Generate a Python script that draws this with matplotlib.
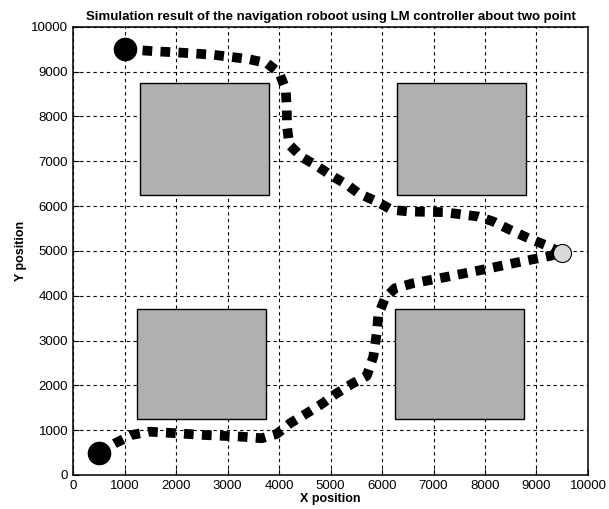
import matplotlib.pyplot as plt
from matplotlib.patches import Rectangle

# obstacles: (x0, y0, width, height)
obstacles = [
    (1300, 6250, 2500, 2500),
    (6300, 6250, 2500, 2500),
    (1250, 1250, 2500, 2450),
    (6250, 1250, 2500, 2450),
]

# path 1: start top-left -> goal
path1_x = [1000, 1625, 2039, 2718, 3398, 3761, 4006, 4130, 4150, 4155, 4200, 4441,
           4732, 5023, 5326, 5534, 5897, 6188, 6544, 7190, 7870, 8161, 8485, 8841, 9165, 9500]
path1_y = [9500, 9449, 9426, 9375, 9279, 9190, 8967, 8594, 8170, 7775, 7366, 7092,
           6897, 6674, 6473, 6288, 6100, 5915, 5877, 5864, 5766, 5654, 5469, 5283, 5134, 4950]

# path 2: start bottom-left -> goal
path2_x = [500, 816, 1140, 1482, 1819, 2530, 3276, 3664, 3955, 4214, 4538, 4829, 5120,
           5412, 5703, 5831, 5897, 5928, 6058, 6252, 6608, 7287, 7936, 8616, 9262, 9500]
path2_y = [500, 708, 893, 967, 944, 893, 855, 819, 915, 1154, 1377, 1585, 1824,
           2031, 2210, 2641, 3163, 3571, 3944, 4167, 4279, 4426, 4576, 4739, 4888, 4950]

starts_x = [1000, 500]
starts_y = [9500, 500]
goal = (9500, 4950)

font = ['Liberation Sans Narrow', 'Liberation Sans', 'DejaVu Sans']
plt.rcParams['font.family'] = font

fig = plt.figure(figsize=(6.09, 5.09), dpi=100)
ax = fig.add_axes([0.120, 0.0668, 0.8455, 0.8807])

for (x0, y0, w, h) in obstacles:
    ax.add_patch(Rectangle((x0, y0), w, h, facecolor='#b0b0b0', edgecolor='black',
                           linewidth=1.0, zorder=2))

dash = (0, (1.0, 0.85))
ax.plot(path1_x, path1_y, color='black', linewidth=7, linestyle=dash, zorder=3)
ax.plot(path2_x, path2_y, color='black', linewidth=7, linestyle=dash, zorder=3)

ax.plot(starts_x, starts_y, 'o', color='black', markersize=16, zorder=4)
ax.plot([goal[0]], [goal[1]], 'o', markerfacecolor='#d9d9d9', markeredgecolor='black',
        markersize=13, markeredgewidth=0.8, zorder=4)

ax.set_xlim(0, 10000)
ax.set_ylim(0, 10000)
ax.set_xticks(range(0, 10001, 1000))
ax.set_yticks(range(0, 10001, 1000))
ax.grid(True, color='black', linestyle=(0, (3, 3)), linewidth=0.8)
ax.set_axisbelow(True)
ax.tick_params(direction='in', labelsize=9.5, length=4)
for s in ax.spines.values():
    s.set_linewidth(1.1)

ax.set_title('Simulation result of the navigation roboot using LM controller about two point',
             fontsize=9.5, fontweight='bold', pad=5)
ax.set_xlabel('X position', fontsize=9, fontweight='bold', labelpad=1)
ax.set_ylabel('Y position', fontsize=9, fontweight='bold', labelpad=3)

fig.savefig('out.png', dpi=100)
